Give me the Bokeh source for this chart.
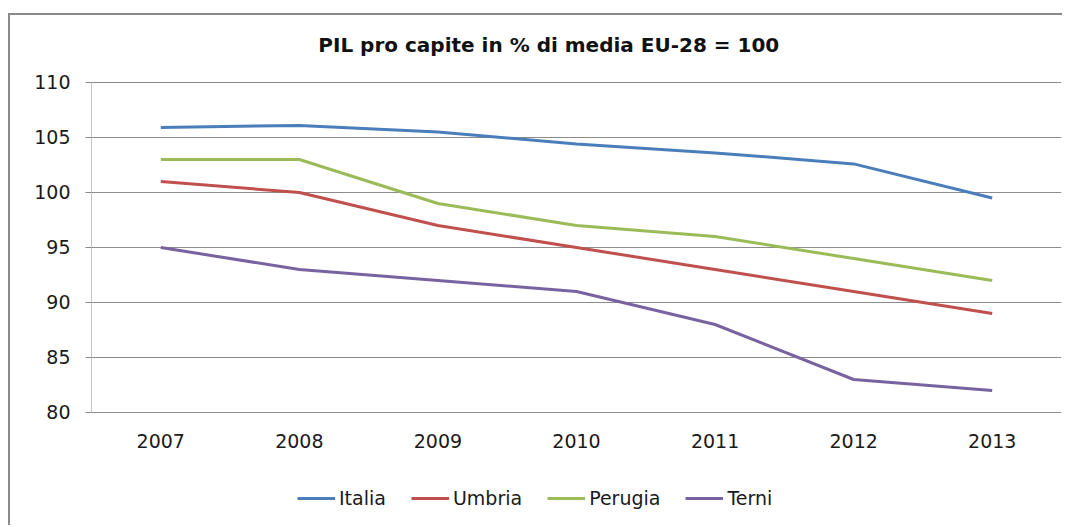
from bokeh.plotting import figure
from bokeh.models import Legend, LegendItem, FixedTicker, Range1d, Label
from bokeh.embed import file_html
from bokeh.resources import INLINE

years = ["2007", "2008", "2009", "2010", "2011", "2012", "2013"]
italia = [105.9, 106.1, 105.5, 104.4, 103.6, 102.6, 99.5]
umbria = [101, 100, 97, 95, 93, 91, 89]
perugia = [103, 103, 99, 97, 96, 94, 92]
terni = [95, 93, 92, 91, 88, 83, 82]
y_ticks = [80, 85, 90, 95, 100, 105, 110]

series = [("Italia", italia, "#4A7EBB"),
          ("Umbria", umbria, "#C0504D"),
          ("Perugia", perugia, "#9BBB59"),
          ("Terni", terni, "#7763A0")]

FONT = "DejaVu Sans"
xs = list(range(len(years)))
X0 = -0.5

# The frame covers the whole chart area; the value axis spans 80..110 inside it.
p = figure(width=1054, height=512, output_backend="svg", toolbar_location=None,
           x_range=Range1d(X0, len(years) - 0.5), y_range=Range1d(69.545, 116.09),
           min_border_left=81, min_border_right=3, min_border_top=0, min_border_bottom=0)
p.styles = {"border-left": "2px solid #8a8a8a", "border-top": "2px solid #8a8a8a",
            "margin-top": "13px", "margin-left": "8px"}
p.outline_line_color = None
p.background_fill_color = "white"

p.xaxis.visible = False
p.xgrid.grid_line_color = None

p.yaxis.ticker = FixedTicker(ticks=y_ticks)
p.yaxis.minor_tick_line_color = None
p.yaxis.axis_line_color = None
p.yaxis.major_tick_line_color = "#8a8a8a"
p.yaxis.major_tick_out = 6
p.yaxis.major_tick_in = 0
p.yaxis.major_label_standoff = 15
p.yaxis.major_label_text_font = FONT
p.yaxis.major_label_text_font_size = "19px"
p.yaxis.major_label_text_color = "#1a1a1a"

p.ygrid.ticker = FixedTicker(ticks=y_ticks)
p.ygrid.grid_line_color = "#8c8c8c"
p.ygrid.grid_line_width = 1

# value-axis line
p.segment(x0=[X0], y0=[y_ticks[0]], x1=[X0], y1=[y_ticks[-1]],
          line_color="#8a8a8a", line_width=1)

# category labels
p.text(x=xs, y=[y_ticks[0]] * len(xs), text=years, y_offset=29,
       text_align="center", text_baseline="middle",
       text_font={"value": FONT}, text_font_size={"value": "19px"}, text_color="#1a1a1a")

items = []
for name, vals, col in series:
    r = p.line(xs, vals, line_color=col, line_width=3)
    items.append(LegendItem(label=name, renderers=[r]))

legend = Legend(items=items, orientation="horizontal", location=(206, 18),
                glyph_width=38, glyph_height=20, label_standoff=4, spacing=25,
                padding=0, margin=0, border_line_color=None, background_fill_alpha=0,
                label_text_font=FONT, label_text_font_size="19px", label_text_color="#1a1a1a")
p.add_layout(legend, "center")

title = Label(x=2.8, y=113.4, text="PIL pro capite in % di media EU-28 = 100",
              text_font=FONT, text_font_style="bold", text_font_size="20px",
              text_align="center", text_baseline="middle", text_color="#111111")
p.add_layout(title)

open("out.html", "w").write(file_html(p, INLINE))
